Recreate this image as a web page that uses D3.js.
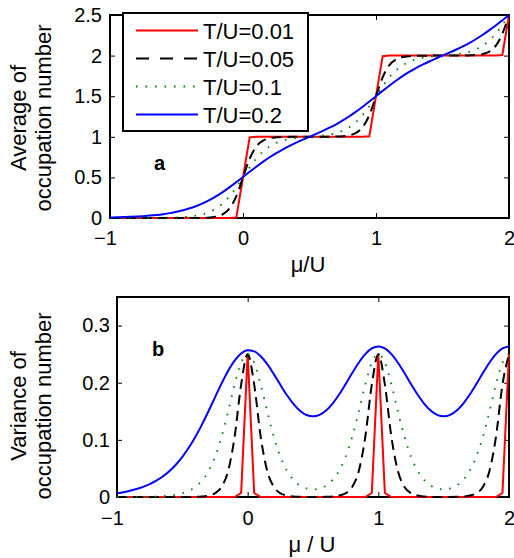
<!DOCTYPE html>
<html>
<head>
<meta charset="utf-8">
<script src="https://cdn.jsdelivr.net/npm/d3@7"></script>
<style>
  body { margin: 0; background: #fff; }
  text { font-family: "Liberation Sans", Arial, Helvetica, sans-serif; }
</style>
</head>
<body>
<div class="chart"></div>
<script>
// chemical potential grid (mu/U)
var mu = [-1,-0.95,-0.9,-0.85,-0.8,-0.75,-0.7,-0.65,-0.6,-0.55,-0.5,-0.45,-0.4,-0.35,-0.3,-0.25,-0.2,-0.15,-0.1,-0.05,
  0,0.05,0.1,0.15,0.2,0.25,0.3,0.35,0.4,0.45,0.5,0.55,0.6,0.65,0.7,0.75,0.8,0.85,0.9,0.95,
  1,1.05,1.1,1.15,1.2,1.25,1.3,1.35,1.4,1.45,1.5,1.55,1.6,1.65,1.7,1.75,1.8,1.85,1.9,1.95,2];

var seriesNames = ["T/U=0.01", "T/U=0.05", "T/U=0.1", "T/U=0.2"];

// panel a : average occupation number
var avgT001 = [0,0,0,0,0,0,0,0,0,0,0,0,0,0,0,0,0,0,0,0.007,
  0.5,0.993,1,1,1,1,1,1,1,1,1,1,1,1,1,1,1,1,1,1.007,
  1.5,1.993,2,2,2,2,2,2,2,2,2,2,2,2,2,2,2,2,2,2.007,2.5];
var avgT005 = [0,0,0,0,0,0,0,0,0,0,0,0.0001,0.0003,0.0009,0.0025,0.0067,0.018,0.0474,0.1192,0.2689,
  0.5,0.7311,0.8808,0.9526,0.982,0.9933,0.9975,0.9991,0.9997,0.9999,1,1.0001,1.0003,1.0009,1.0025,1.0067,1.018,1.0474,1.1192,1.2689,
  1.5,1.7311,1.8808,1.9526,1.982,1.9933,1.9975,1.9991,1.9997,1.9999,2,2.0001,2.0003,2.0009,2.0025,2.0067,2.018,2.0474,2.1192,2.2689,2.5];
var avgT01 = [0,0.0001,0.0001,0.0002,0.0003,0.0006,0.0009,0.0015,0.0025,0.0041,0.0067,0.011,0.018,0.0293,0.0474,0.0759,0.1192,0.1824,0.2689,0.3775,
  0.5,0.6225,0.7312,0.8178,0.8811,0.9247,0.9535,0.9722,0.9845,0.9931,1,1.0069,1.0155,1.0278,1.0465,1.0753,1.1189,1.1822,1.2688,1.3775,
  1.5,1.6225,1.7312,1.8178,1.8811,1.9247,1.9535,1.9722,1.9845,1.9931,2,2.0069,2.0155,2.0278,2.0465,2.0753,2.1189,2.1822,2.2688,2.3775,2.5];
var avgT02 = [0.0067,0.0086,0.011,0.0141,0.018,0.023,0.0293,0.0373,0.0474,0.0601,0.0759,0.0955,0.1194,0.1484,0.1829,0.2235,0.2701,0.3225,0.38,0.4414,
  0.505,0.5691,0.6319,0.6919,0.7478,0.7993,0.8461,0.8887,0.9278,0.9645,1,1.0356,1.0724,1.1117,1.1544,1.2015,1.2533,1.3099,1.3706,1.4344,
  1.5,1.5656,1.6294,1.6901,1.7467,1.7985,1.8456,1.8883,1.9276,1.9644,2,2.0356,2.0724,2.1117,2.1544,2.2015,2.2533,2.3099,2.3706,2.4344,2.5];

// panel b : variance of occupation number
var varT001 = [0,0,0,0,0,0,0,0,0,0,0,0,0,0,0,0,0,0,0,0.007,
  0.25,0.007,0,0,0,0,0,0,0,0,0,0,0,0,0,0,0,0,0,0.007,
  0.25,0.007,0,0,0,0,0,0,0,0,0,0,0,0,0,0,0,0,0,0.007,0.25];
var varT005 = [0,0,0,0,0,0,0,0,0,0,0,0.0001,0.0003,0.0009,0.0025,0.0066,0.0177,0.0452,0.105,0.1966,
  0.25,0.1966,0.105,0.0452,0.0177,0.0066,0.0025,0.0009,0.0003,0.0001,0.0001,0.0001,0.0003,0.0009,0.0025,0.0066,0.0177,0.0452,0.105,0.1966,
  0.25,0.1966,0.105,0.0452,0.0177,0.0066,0.0025,0.0009,0.0003,0.0001,0.0001,0.0001,0.0003,0.0009,0.0025,0.0066,0.0177,0.0452,0.105,0.1966,0.25];
var varT01 = [0,0.0001,0.0001,0.0002,0.0003,0.0006,0.0009,0.0015,0.0025,0.0041,0.0066,0.0109,0.0177,0.0285,0.0452,0.0701,0.105,0.1491,0.1966,0.235,
  0.2501,0.2351,0.1968,0.1494,0.1053,0.0707,0.0461,0.03,0.0201,0.0149,0.0133,0.0149,0.0201,0.03,0.0461,0.0707,0.1053,0.1494,0.1968,0.2351,
  0.2501,0.2351,0.1968,0.1494,0.1053,0.0707,0.0461,0.03,0.0201,0.0149,0.0133,0.0149,0.0201,0.03,0.0461,0.0707,0.1053,0.1494,0.1968,0.2351,0.2501];
var varT02 = [0.0066,0.0085,0.0109,0.0139,0.0177,0.0224,0.0285,0.0359,0.0452,0.0565,0.0703,0.0865,0.1054,0.1267,0.15,0.1744,0.1985,0.2205,0.2387,0.2512,
  0.2567,0.2549,0.2463,0.2324,0.215,0.1964,0.1784,0.1629,0.151,0.1435,0.1412,0.1438,0.1514,0.1635,0.1793,0.1976,0.2169,0.235,0.25,0.2599,
  0.2634,0.2599,0.25,0.235,0.2169,0.1976,0.1793,0.1635,0.1514,0.1438,0.1413,0.1438,0.1514,0.1635,0.1793,0.1976,0.2169,0.235,0.25,0.2599,0.2634];

var xTicks = [-1, 0, 1, 2];
var yTicksA = [0, 0.5, 1, 1.5, 2, 2.5];
var yTicksB = [0, 0.1, 0.2, 0.3];

var styles = [
  {color: "#ff0000", dash: null, width: 2, curve: d3.curveLinear},
  {color: "#000000", dash: "10,6", width: 2, curve: d3.curveMonotoneX},
  {color: "#008000", dash: "1.6,7.8", width: 1.8, curve: d3.curveMonotoneX},
  {color: "#0000ff", dash: null, width: 2, curve: d3.curveMonotoneX}
];

var svg = d3.select(".chart").append("svg")
    .attr("width", 514)
    .attr("height", 558);

var tickFmt = function(d){ return d < 0 ? "\u2212" + Math.abs(d) : String(d); };

function drawPanel(opts) {
  var x = d3.scaleLinear().domain([-1, 2]).range([opts.left, opts.right]);
  var y = d3.scaleLinear().domain(opts.yDomain).range([opts.bottom, opts.top]);

  var g = svg.append("g");

  // frame
  g.append("rect")
      .attr("x", opts.left).attr("y", opts.top)
      .attr("width", opts.right - opts.left)
      .attr("height", opts.bottom - opts.top)
      .attr("fill", "none")
      .attr("stroke", "#000")
      .attr("stroke-width", 2);

  var xb = g.append("g")
      .attr("transform", "translate(0," + opts.bottom + ")")
      .call(d3.axisBottom(x).tickValues(xTicks).tickFormat(tickFmt)
        .tickSizeInner(-5).tickSizeOuter(0).tickPadding(opts.xPad));
  xb.selectAll("text").attr("dx", function(d){ return d < 0 ? "-5" : null; });

  g.append("g")
      .attr("transform", "translate(0," + opts.top + ")")
      .call(d3.axisTop(x).tickValues(xTicks).tickFormat("")
        .tickSizeInner(-5).tickSizeOuter(0));

  g.append("g")
      .attr("transform", "translate(" + opts.left + ",0)")
      .call(d3.axisLeft(y).tickValues(opts.yTicks).tickFormat(d3.format("~g"))
        .tickSizeInner(-5).tickSizeOuter(0).tickPadding(opts.yPad));

  g.append("g")
      .attr("transform", "translate(" + opts.right + ",0)")
      .call(d3.axisRight(y).tickValues(opts.yTicks).tickFormat("")
        .tickSizeInner(-5).tickSizeOuter(0));

  g.selectAll(".domain").remove();
  g.selectAll(".tick line").attr("stroke", "#000").attr("stroke-width", 1);
  g.selectAll(".tick text").attr("font-size", 20).attr("fill", "#000")
      .style("font-family", "'Liberation Sans', Arial, sans-serif");

  // curves
  opts.series.forEach(function(vals, i){
    var st = styles[i];
    var line = d3.line()
        .x(function(d, j){ return x(mu[j]); })
        .y(function(d){ return y(d); })
        .curve(st.curve);
    g.append("path")
        .datum(vals)
        .attr("d", line)
        .attr("fill", "none")
        .attr("stroke", st.color)
        .attr("stroke-width", st.width)
        .attr("stroke-dasharray", st.dash);
  });

  // y label, two lines
  opts.yLabel.forEach(function(t, i){
    g.append("text")
        .attr("text-anchor", "middle")
        .attr("font-size", 22)
        .attr("transform", "translate(" + opts.yLabelX[i] + "," + opts.yLabelY + ")rotate(-90)")
        .text(t);
  });

  g.append("text")
      .attr("text-anchor", "middle")
      .attr("font-size", 22)
      .attr("x", opts.xLabelX)
      .attr("y", opts.xLabelY)
      .text(opts.xLabel);

  g.append("text")
      .attr("font-size", 20)
      .attr("font-weight", "bold")
      .attr("x", opts.tagX)
      .attr("y", opts.tagY)
      .text(opts.tag);

  return g;
}

drawPanel({
  left: 110, right: 509, top: 15, bottom: 218,
  yDomain: [0, 2.5], yTicks: yTicksA,
  xPad: 13, yPad: 8,
  series: [avgT001, avgT005, avgT01, avgT02],
  yLabel: ["Average of", "occupation number"], yLabelX: [26, 51], yLabelY: 118,
  xLabel: "\u03bc/U", xLabelX: 308, xLabelY: 272,
  tag: "a", tagX: 154, tagY: 170
});

drawPanel({
  left: 117, right: 509, top: 297, bottom: 497,
  yDomain: [0, 0.35], yTicks: yTicksB,
  xPad: 14, yPad: 7,
  series: [varT001, varT005, varT01, varT02],
  yLabel: ["Variance of", "occupation number"], yLabelX: [26, 51], yLabelY: 406,
  xLabel: "\u03bc / U", xLabelX: 312, xLabelY: 552,
  tag: "b", tagX: 152, tagY: 356
});

// legend (panel a)
var legend = svg.append("g");
legend.append("rect")
    .attr("x", 123).attr("y", 13)
    .attr("width", 185).attr("height", 118)
    .attr("fill", "#fff")
    .attr("stroke", "#000")
    .attr("stroke-width", 2);

var rowY = d3.scalePoint().domain(seriesNames).range([30.5, 114.5]);

seriesNames.forEach(function(name, i){
  var st = styles[i];
  legend.append("line")
      .attr("x1", 136).attr("x2", 198)
      .attr("y1", rowY(name)).attr("y2", rowY(name))
      .attr("stroke", st.color)
      .attr("stroke-width", st.width)
      .attr("stroke-dasharray", i == 1 ? "13,11" : (i == 2 ? "1.6,7.9" : null));
  legend.append("text")
      .attr("x", 203)
      .attr("y", rowY(name) + 8)
      .attr("font-size", 22)
      .text(name);
});
</script>
</body>
</html>
